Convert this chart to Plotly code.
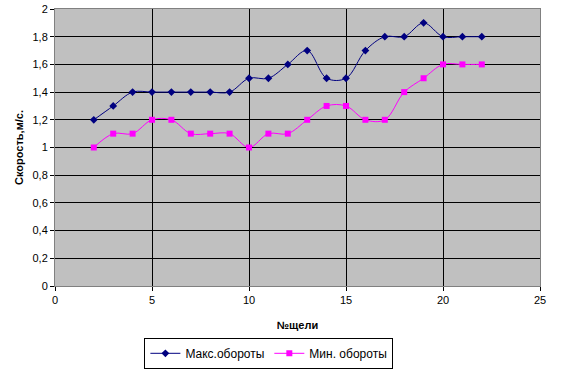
import plotly.graph_objects as go

x_vals = list(range(2, 23))
max_speed = [1.2, 1.3, 1.4, 1.4, 1.4, 1.4, 1.4, 1.4, 1.5, 1.5, 1.6, 1.7, 1.5, 1.5, 1.7, 1.8, 1.8, 1.9, 1.8, 1.8, 1.8]
min_speed = [1.0, 1.1, 1.1, 1.2, 1.2, 1.1, 1.1, 1.1, 1.0, 1.1, 1.1, 1.2, 1.3, 1.3, 1.2, 1.2, 1.4, 1.5, 1.6, 1.6, 1.6]
y_ticks = [0, 0.2, 0.4, 0.6, 0.8, 1, 1.2, 1.4, 1.6, 1.8, 2]
y_labels = ["0", "0,2", "0,4", "0,6", "0,8", "1", "1,2", "1,4", "1,6", "1,8", "2"]
x_ticks = [0, 5, 10, 15, 20, 25]

fig = go.Figure()
fig.add_trace(go.Scatter(x=x_vals, y=max_speed, name="Макс.обороты", mode="lines+markers",
                         line=dict(color="#000080", width=1, shape="spline", smoothing=1.0),
                         marker=dict(symbol="diamond", size=6, color="#000080")))
fig.add_trace(go.Scatter(x=x_vals, y=min_speed, name="Мин. обороты", mode="lines+markers",
                         line=dict(color="#FF00FF", width=1, shape="spline", smoothing=1.0),
                         marker=dict(symbol="square", size=6, color="#FF00FF")))

fig.update_layout(
    width=577, height=371,
    margin=dict(l=55, r=37, t=9, b=85, autoexpand=False),
    paper_bgcolor="white", plot_bgcolor="#C0C0C0",
    font=dict(family="Liberation Sans, Arial", size=11, color="black"),
    showlegend=True,
    legend=dict(orientation="h", x=0.441, xanchor="center", y=-0.187, yanchor="top",
                bordercolor="black", borderwidth=1, bgcolor="white",
                font=dict(size=12), itemwidth=30, tracegroupgap=0),
    xaxis=dict(range=[0, 25], tickvals=x_ticks, showgrid=True, gridcolor="black", gridwidth=1,
               ticks="outside", ticklen=4, tickcolor="black", showline=True, linecolor="#808080",
               mirror=True, zeroline=False, automargin=False,
               title=dict(text="<b>№щели</b>", font=dict(size=11), standoff=16)),
    yaxis=dict(range=[0, 2], tickvals=y_ticks, ticktext=y_labels, showgrid=True, gridcolor="black",
               gridwidth=1, ticks="outside", ticklen=4, tickcolor="black", showline=True,
               linecolor="#808080", mirror=True, zeroline=False, automargin=False,
               title=dict(text="<b>Скорость,м/с.</b>", font=dict(size=11), standoff=6)),
)

fig.write_html("out.html", config={"displayModeBar": False},
               post_script="document.body.style.margin='0';document.body.style.overflow='hidden';")
